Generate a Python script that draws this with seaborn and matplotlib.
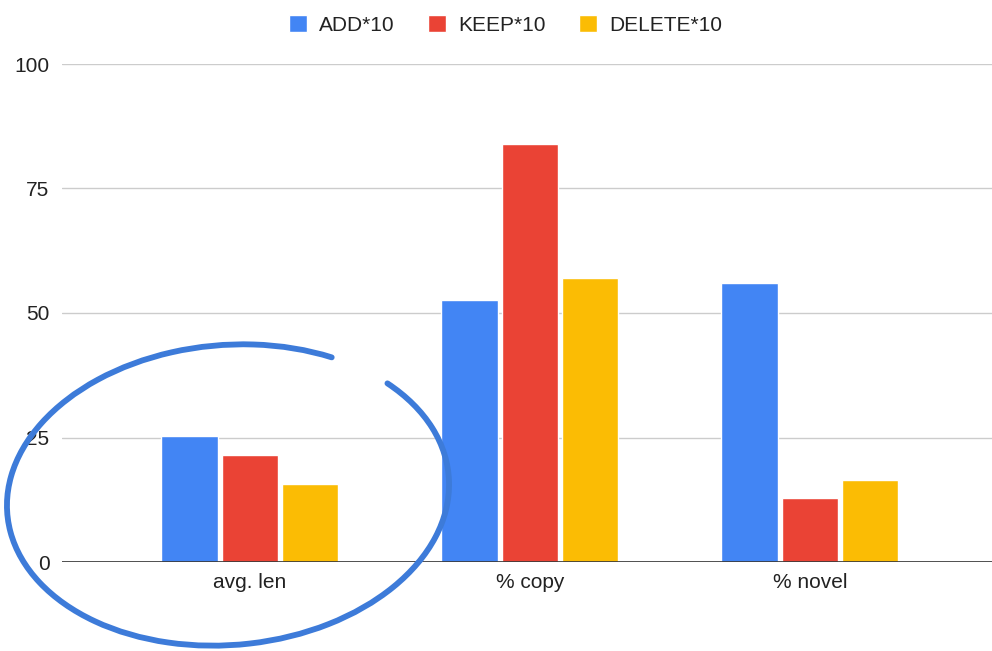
import matplotlib
matplotlib.use("Agg")
import matplotlib.pyplot as plt
from matplotlib.patches import Arc
import seaborn as sns
import pandas as pd

categories = ["avg. len", "% copy", "% novel"]
series = ["ADD*10", "KEEP*10", "DELETE*10"]
add_vals = [25.4, 52.6, 56.1]
keep_vals = [21.4, 84.0, 12.8]
delete_vals = [15.7, 57.1, 16.4]
colors = ["#4285F4", "#EA4335", "#FBBC04"]
y_ticks = [0, 25, 50, 75, 100]

rows = []
for s, vals in zip(series, [add_vals, keep_vals, delete_vals]):
    for c, v in zip(categories, vals):
        rows.append({"category": c, "series": s, "value": v})
df = pd.DataFrame(rows)

sns.set_theme(style="white")
plt.rcParams["font.family"] = ["Liberation Sans", "DejaVu Sans"]

W, H = 992, 651
fig = plt.figure(figsize=(W / 100, H / 100), dpi=100)
ax = fig.add_axes([62 / W, (H - 562) / H, (W - 62) / W, (562 - 64) / H])

sns.barplot(data=df, x="category", y="value", hue="series", order=categories,
            hue_order=series, palette=colors, width=0.645, gap=0.06,
            saturation=1, ax=ax, zorder=3)

ax.set_ylim(0, 100)
ax.set_xlim(-0.671, 2.65)
ax.set_yticks(y_ticks)
ax.set_yticklabels([str(t) for t in y_ticks])
ax.grid(axis="y", color="#cccccc", linewidth=1, zorder=0)
ax.grid(axis="x", visible=False)
for sp in ax.spines.values():
    sp.set_visible(False)
ax.axhline(0, color="#333333", linewidth=1.2, zorder=4)
ax.set_xlabel("")
ax.set_ylabel("")
ax.tick_params(axis="both", length=0, labelsize=15, labelcolor="#222222")
ax.tick_params(axis="x", pad=8)
ax.tick_params(axis="y", pad=9)

handles, labels = ax.get_legend_handles_labels()
ax.get_legend().remove()
fig.legend(handles, labels, loc="upper center", bbox_to_anchor=(0.51, 1.005),
           ncol=3, frameon=False, fontsize=15, handlelength=0.85, handleheight=0.85,
           handletextpad=0.6, columnspacing=1.6, labelcolor="#222222")

# hand-drawn circle annotation
ov = fig.add_axes([0, 0, 1, 1], facecolor="none")
ov.set_xlim(0, W)
ov.set_ylim(0, H)
ov.axis("off")
arc = Arc((228, H - 495), 443, 300, angle=5, theta1=48, theta2=30 + 360,
          color="#3d7bd9", linewidth=4.2, capstyle="round")
ov.add_patch(arc)

fig.savefig("out.png", dpi=100)
